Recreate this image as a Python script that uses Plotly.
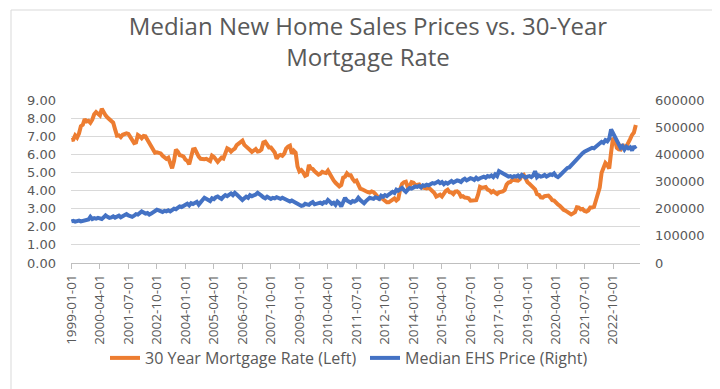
import pandas as pd
import plotly.graph_objects as go

# Monthly categories 1999-01 .. 2023-10
months = [d.strftime("%Y-%m-%d") for d in pd.date_range("1999-01-01", "2023-10-01", freq="MS")]

# 30 Year Mortgage Rate (Left axis), monthly
mortgage_rate = [
    6.79, 6.81, 7.04, 6.92, 7.15, 7.55, 7.63, 7.94, 7.82, 7.85, 7.74, 7.91,   # 1999
    8.21, 8.33, 8.24, 8.15, 8.52, 8.29, 8.15, 8.03, 7.91, 7.80, 7.75, 7.38,   # 2000
    7.03, 7.05, 6.95, 7.08, 7.15, 7.16, 7.13, 6.95, 6.82, 6.62, 6.66, 7.07,   # 2001
    7.00, 6.89, 7.01, 6.99, 6.81, 6.65, 6.49, 6.29, 6.09, 6.11, 6.07, 6.05,   # 2002
    5.92, 5.84, 5.75, 5.81, 5.48, 5.23, 5.63, 6.26, 6.15, 5.95, 5.93, 5.88,   # 2003
    5.71, 5.64, 5.45, 5.83, 6.27, 6.29, 6.06, 5.87, 5.75, 5.72, 5.73, 5.75,   # 2004
    5.71, 5.63, 5.93, 5.86, 5.72, 5.58, 5.70, 5.82, 5.77, 6.07, 6.33, 6.27,   # 2005
    6.15, 6.25, 6.32, 6.51, 6.60, 6.68, 6.76, 6.52, 6.40, 6.36, 6.24, 6.14,   # 2006
    6.22, 6.29, 6.16, 6.18, 6.26, 6.66, 6.70, 6.57, 6.38, 6.38, 6.21, 6.10,   # 2007
    5.76, 5.92, 5.97, 5.92, 6.04, 6.32, 6.43, 6.48, 6.04, 6.20, 6.09, 5.33,   # 2008
    5.06, 5.13, 5.00, 4.81, 4.86, 5.42, 5.22, 5.19, 5.06, 4.95, 4.88, 4.93,   # 2009
    5.03, 4.99, 4.97, 5.10, 4.89, 4.74, 4.56, 4.43, 4.35, 4.23, 4.30, 4.71,   # 2010
    4.76, 4.95, 4.84, 4.84, 4.64, 4.51, 4.55, 4.27, 4.11, 4.07, 3.99, 3.96,   # 2011
    3.92, 3.89, 3.95, 3.91, 3.80, 3.68, 3.55, 3.60, 3.50, 3.38, 3.35, 3.35,   # 2012
    3.41, 3.53, 3.57, 3.45, 3.54, 4.07, 4.37, 4.46, 4.49, 4.19, 4.26, 4.46,   # 2013
    4.43, 4.30, 4.34, 4.34, 4.19, 4.16, 4.13, 4.12, 4.16, 4.04, 4.00, 3.86,   # 2014
    3.67, 3.71, 3.77, 3.67, 3.84, 3.98, 4.05, 3.91, 3.89, 3.80, 3.94, 3.96,   # 2015
    3.87, 3.66, 3.69, 3.61, 3.60, 3.57, 3.44, 3.44, 3.46, 3.47, 3.77, 4.20,   # 2016
    4.15, 4.17, 4.20, 4.05, 4.01, 3.90, 3.97, 3.88, 3.81, 3.90, 3.92, 3.95,   # 2017
    4.03, 4.33, 4.44, 4.47, 4.59, 4.57, 4.53, 4.55, 4.63, 4.83, 4.87, 4.64,   # 2018
    4.46, 4.37, 4.27, 4.14, 4.07, 3.80, 3.77, 3.62, 3.61, 3.69, 3.70, 3.72,   # 2019
    3.62, 3.47, 3.45, 3.31, 3.23, 3.16, 3.02, 2.94, 2.89, 2.83, 2.77, 2.68,   # 2020
    2.74, 2.81, 3.08, 3.06, 2.96, 2.98, 2.87, 2.84, 2.90, 3.07, 3.07, 3.10,   # 2021
    3.45, 3.76, 4.17, 4.98, 5.23, 5.52, 5.41, 5.22, 6.11, 6.90, 6.81, 6.36,   # 2022
    6.27, 6.26, 6.54, 6.34, 6.43, 6.71, 6.84, 7.07, 7.20, 7.62,               # 2023
]

# Median EHS Price (Right axis), monthly
median_price = [
    153000, 155000, 152000, 154000, 156000, 153000, 155000, 154000, 157000, 160000, 170000, 162000,  # 1999
    165000, 163000, 166000, 164000, 162000, 168000, 175000, 170000, 166000, 168000, 172000, 167000,  # 2000
    170000, 174000, 168000, 172000, 176000, 180000, 175000, 171000, 170000, 174000, 180000, 178000,  # 2001
    185000, 190000, 186000, 182000, 184000, 178000, 182000, 188000, 192000, 196000, 194000, 190000,  # 2002
    188000, 192000, 190000, 194000, 190000, 195000, 200000, 198000, 204000, 208000, 206000, 210000,  # 2003
    215000, 218000, 212000, 220000, 217000, 222000, 225000, 215000, 226000, 232000, 240000, 235000,  # 2004
    230000, 228000, 238000, 235000, 242000, 245000, 240000, 236000, 244000, 250000, 246000, 252000,  # 2005
    256000, 250000, 258000, 252000, 245000, 240000, 232000, 238000, 244000, 240000, 250000, 246000,  # 2006
    248000, 252000, 258000, 255000, 248000, 242000, 238000, 244000, 239000, 236000, 240000, 238000,  # 2007
    242000, 238000, 236000, 240000, 236000, 232000, 228000, 226000, 230000, 224000, 222000, 218000,  # 2008
    214000, 210000, 212000, 218000, 216000, 214000, 220000, 224000, 216000, 218000, 220000, 222000,  # 2009
    218000, 224000, 222000, 232000, 226000, 218000, 222000, 214000, 226000, 220000, 208000, 228000,  # 2010
    240000, 230000, 226000, 222000, 228000, 226000, 230000, 240000, 232000, 224000, 220000, 228000,  # 2011
    236000, 240000, 238000, 236000, 242000, 240000, 236000, 248000, 244000, 250000, 246000, 252000,  # 2012
    258000, 262000, 258000, 270000, 266000, 272000, 276000, 268000, 262000, 270000, 276000, 274000,  # 2013
    278000, 282000, 280000, 284000, 278000, 286000, 284000, 288000, 286000, 290000, 294000, 292000,  # 2014
    296000, 300000, 294000, 298000, 290000, 296000, 292000, 298000, 302000, 296000, 300000, 304000,  # 2015
    302000, 298000, 306000, 310000, 304000, 308000, 312000, 310000, 306000, 314000, 308000, 312000,  # 2016
    316000, 318000, 314000, 320000, 318000, 322000, 316000, 326000, 320000, 338000, 334000, 330000,  # 2017
    326000, 322000, 318000, 320000, 316000, 320000, 318000, 322000, 316000, 324000, 320000, 314000,  # 2018
    318000, 320000, 316000, 322000, 338000, 316000, 322000, 318000, 320000, 324000, 318000, 322000,  # 2019
    326000, 324000, 330000, 320000, 316000, 322000, 330000, 336000, 344000, 350000, 352000, 360000,  # 2020
    366000, 372000, 380000, 388000, 396000, 404000, 410000, 414000, 418000, 420000, 424000, 422000,  # 2021
    428000, 432000, 440000, 446000, 442000, 452000, 448000, 458000, 492000, 478000, 462000, 446000,  # 2022
    430000, 424000, 430000, 418000, 428000, 422000, 426000, 414000, 430000, 420000,                  # 2023
]

tick_labels = months[::15]

TEXT = "#595959"
GRID = "#d9d9d9"
FONT = "Open Sans"
AXFONT = "DejaVu Sans"

W, H = 720, 389
L, R, T, B = 63, 88, 92, 134
pw, ph = W - L - R, H - T - B

fig = go.Figure()
fig.add_trace(go.Scatter(
    x=months, y=mortgage_rate, mode="lines", name="30 Year Mortgage Rate (Left)",
    line=dict(color="#ED7D31", width=4), yaxis="y",
))
fig.add_trace(go.Scatter(
    x=months, y=median_price, mode="lines", name="Median EHS Price (Right)",
    line=dict(color="#4472C4", width=4), yaxis="y2",
))


def px_x(p):
    return (p - L) / pw


def px_y(p):
    return (H - B - p) / ph


fig.update_layout(
    width=W, height=H,
    margin=dict(l=L, r=R, t=T, b=B, autoexpand=False),
    paper_bgcolor="white", plot_bgcolor="white",
    font=dict(family=FONT, color=TEXT, size=14),
    title=dict(
        text="Median New Home Sales Prices vs. 30-Year<br>Mortgage Rate",
        x=0.5, xref="container", xanchor="center",
        y=1 - 27 / H, yref="container", yanchor="middle",
        font=dict(family=FONT, size=24, color=TEXT),
    ),
    xaxis=dict(
        type="category",
        range=[-0.2, 299.2],
        tickmode="array", tickvals=tick_labels, ticktext=tick_labels,
        tickangle=-90,
        tickfont=dict(family=FONT, size=13.5, color=TEXT),
        showgrid=False,
        showline=True, linecolor="#bfbfbf", linewidth=1,
        ticks="outside", ticklen=5, tickcolor="#bfbfbf",
        zeroline=False, automargin=False,
    ),
    yaxis=dict(
        range=[0, 9], dtick=1, tick0=0, tickformat=".2f",
        showgrid=True, gridcolor=GRID, gridwidth=1,
        zeroline=False, showline=False,
        tickfont=dict(family=AXFONT, size=13, color=TEXT),
        ticklabelposition="outside",
        ticklabelstandoff=14,
        automargin=False,
    ),
    yaxis2=dict(
        overlaying="y", side="right",
        range=[0, 600000], dtick=100000, tick0=0, tickformat="d",
        showgrid=False, zeroline=False, showline=False,
        tickfont=dict(family=AXFONT, size=13, color=TEXT),
        ticklabelposition="outside",
        ticklabelstandoff=14,
        automargin=False,
    ),
    legend=dict(
        orientation="h", x=px_x(97), xanchor="left",
        y=px_y(350), yanchor="middle",
        font=dict(size=16, color=TEXT),
        bgcolor="rgba(0,0,0,0)",
        traceorder="normal",
        entrywidth=215,
    ),
    showlegend=True,
    shapes=[dict(
        type="rect", xref="paper", yref="paper",
        x0=px_x(3), x1=px_x(715), y0=px_y(385), y1=px_y(2),
        line=dict(color="#d9d9d9", width=1), fillcolor="rgba(0,0,0,0)",
        layer="below",
    )],
)

fig.write_html("out.html")
